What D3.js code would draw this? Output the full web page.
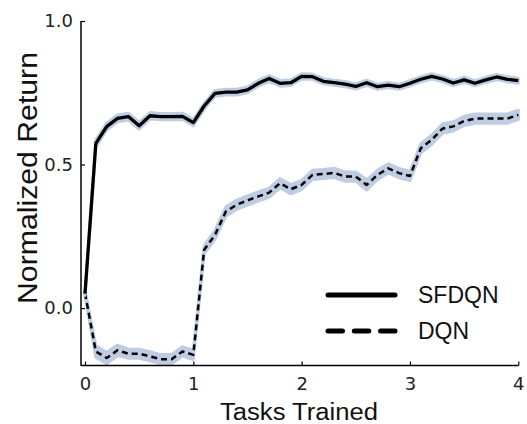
<!DOCTYPE html>
<html>
<head>
<meta charset="utf-8">
<script src="https://cdn.jsdelivr.net/npm/d3@7"></script>
<style>
html,body{margin:0;padding:0;background:#fff;}
svg{display:block;}
</style>
</head>
<body>
<svg id="chart" width="527" height="424"></svg>
<script>
// ---- data ----
const tasks = d3.range(41).map(i => i / 10); // 0.0 ... 4.0 in steps of 0.1
const sfdqn = [0.05,0.574,0.632,0.661,0.667,0.635,0.670,0.667,0.667,0.668,
               0.646,0.704,0.748,0.752,0.752,0.760,0.783,0.800,0.783,0.785,
               0.807,0.806,0.790,0.785,0.780,0.772,0.785,0.771,0.777,0.771,
               0.783,0.797,0.807,0.798,0.784,0.795,0.783,0.795,0.805,0.797,0.792];
const sfdqnErr = [0.006,0.012,0.012,0.012,0.012,0.012,0.011,0.011,0.011,0.011,
                  0.011,0.010,0.010,0.010,0.010,0.010,0.010,0.010,0.010,0.010,
                  0.009,0.009,0.009,0.009,0.009,0.009,0.009,0.009,0.009,0.009,
                  0.009,0.009,0.009,0.009,0.009,0.009,0.009,0.009,0.009,0.009,0.009];
const dqn = [0.052,-0.151,-0.174,-0.147,-0.159,-0.159,-0.168,-0.178,-0.178,-0.151,
             -0.163,0.203,0.255,0.336,0.360,0.375,0.389,0.402,0.435,0.414,
             0.429,0.464,0.467,0.471,0.458,0.458,0.429,0.464,0.487,0.470,
             0.460,0.557,0.586,0.625,0.633,0.652,0.660,0.660,0.660,0.660,0.673];
const dqnErr = [0.010,0.020,0.020,0.018,0.016,0.016,0.016,0.016,0.016,0.016,
                0.016,0.014,0.016,0.016,0.016,0.016,0.016,0.016,0.016,0.016,
                0.016,0.016,0.016,0.016,0.016,0.016,0.018,0.016,0.016,0.016,
                0.016,0.016,0.016,0.016,0.016,0.016,0.016,0.016,0.016,0.016,0.016];
const xTicks = [0,1,2,3,4];
const yTicks = [0.0,0.5,1.0];
const seriesNames = ["SFDQN","DQN"];

// ---- scales ----
const svg = d3.select("#chart");
const x = d3.scaleLinear().domain([0,4]).range([85,518.3]);
const y = d3.scaleLinear().domain([-0.2,1.0]).range([365.5,21]);

const bandColor = "#bfcde3";

function drawSeries(vals, errs, dashed){
  const data = tasks.map((t,i)=>({t, v: vals[i], e: errs[i]}));
  const area = d3.area().x(d=>x(d.t)).y0(d=>y(d.v-d.e)).y1(d=>y(d.v+d.e));
  svg.append("path").datum(data).attr("d",area).attr("fill",bandColor).attr("stroke",bandColor).attr("stroke-width",3).attr("stroke-linejoin","round");
  const line = d3.line().x(d=>x(d.t)).y(d=>y(d.v));
  svg.append("path").datum(data).attr("d",line).attr("fill","none")
    .attr("stroke","#000").attr("stroke-width", dashed?2.5:3.3)
    .attr("stroke-dasharray", dashed?"6,4":null)
    .attr("stroke-linejoin","round");
}
drawSeries(dqn, dqnErr, true);
drawSeries(sfdqn, sfdqnErr, false);

// ---- axes ----
const xAxis = d3.axisBottom(x).tickValues(xTicks).tickFormat(d3.format("d")).tickSizeInner(-4).tickSizeOuter(0).tickPadding(11.5);
const gx = svg.append("g").attr("transform","translate(0,365.5)").call(xAxis);
gx.select(".domain").remove();
gx.append("line").attr("x1",81).attr("x2",518.5).attr("y1",0).attr("y2",0).attr("stroke","#000").attr("stroke-width",1.5);
gx.selectAll(".tick line").attr("stroke","#000").attr("stroke-width",1.2);
gx.selectAll(".tick text").attr("font-family","DejaVu Sans").attr("font-size",18).attr("fill","#222");

const yAxis = d3.axisLeft(y).tickValues(yTicks).tickFormat(d3.format(".1f")).tickSizeInner(-4).tickSizeOuter(0).tickPadding(8);
const gy = svg.append("g").attr("transform","translate(81,0)").call(yAxis);
gy.select(".domain").remove();
gy.append("line").attr("x1",0).attr("x2",0).attr("y1",21).attr("y2",366).attr("stroke","#000").attr("stroke-width",1.5);
gy.selectAll(".tick line").attr("stroke","#000").attr("stroke-width",1.2);
gy.selectAll(".tick text").attr("font-family","DejaVu Sans").attr("font-size",18).attr("fill","#222");

// ---- axis titles ----
svg.append("text").attr("x",299).attr("y",420).attr("text-anchor","middle")
  .attr("font-family","Liberation Sans, Arial, sans-serif").attr("font-size",23).attr("fill","#111")
  .attr("textLength",158).attr("lengthAdjust","spacingAndGlyphs")
  .text("Tasks Trained");
svg.append("text").attr("transform","translate(37,178) rotate(-90)").attr("text-anchor","middle")
  .attr("font-family","Liberation Sans, Arial, sans-serif").attr("font-size",27).attr("fill","#111")
  .attr("textLength",252).attr("lengthAdjust","spacingAndGlyphs")
  .text("Normalized Return");

// ---- legend ----
const legend = svg.append("g");
const legY = [295, 331];
seriesNames.forEach((name,i)=>{
  legend.append("line").attr("x1",328).attr("x2",395).attr("y1",legY[i]).attr("y2",legY[i])
    .attr("stroke","#000").attr("stroke-width",5).attr("stroke-linecap","round")
    .attr("stroke-dasharray", i===1 ? "14.5,11.8" : null);
  legend.append("text").attr("x",418).attr("y",legY[i]+8).attr("font-family","Liberation Sans, Arial, sans-serif")
    .attr("font-size",23).attr("fill","#111").text(name);
});
</script>
</body>
</html>
